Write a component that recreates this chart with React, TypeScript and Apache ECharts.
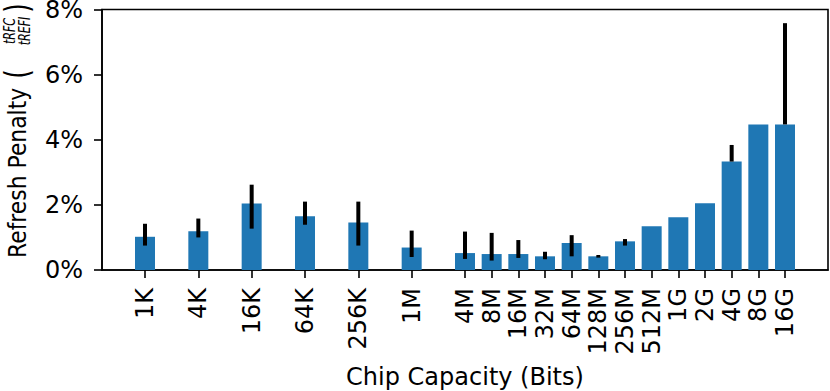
import React, { useEffect, useRef } from "react";
import * as echarts from "echarts";

const capacityLabels = ["1K", "4K", "16K", "64K", "256K", "1M", "4M", "8M", "16M", "32M", "64M", "128M", "256M", "512M", "1G", "2G", "4G", "8G", "16G"];
const capacityLog2 = [10, 12, 14, 16, 18, 20, 22, 23, 24, 25, 26, 27, 28, 29, 30, 31, 32, 33, 34];
const penalty = [1.02, 1.19, 2.04, 1.65, 1.46, 0.69, 0.52, 0.49, 0.49, 0.42, 0.83, 0.42, 0.88, 1.34, 1.62, 2.05, 3.33, 4.47, 4.47];
const errLow: (number | null)[] = [0.75, 1.0, 1.27, 1.39, 0.75, 0.4, 0.34, 0.29, 0.37, 0.33, 0.42, 0.38, 0.75, null, null, null, 3.33, null, 4.47];
const errHigh: (number | null)[] = [1.42, 1.58, 2.62, 2.1, 2.1, 1.21, 1.18, 1.14, 0.92, 0.56, 1.07, 0.46, 0.95, null, null, null, 3.84, null, 7.58];
const yTicks = [0, 2, 4, 6, 8];

const FONT = '"DejaVu Sans", sans-serif';
const BAR_HALF_WIDTH = 0.375;

export default function App() {
  const ref = useRef<HTMLDivElement>(null);
  useEffect(() => {
    document.body.style.margin = "0";
    const chart = echarts.init(ref.current!, null, { renderer: "svg" });
    const barData = capacityLog2.map((x, i) => [x, penalty[i]]);
    const errData = capacityLog2
      .map((x, i) => [x, errLow[i], errHigh[i]])
      .filter((d) => d[1] != null && d[2] != null);

    chart.setOption({
      animation: false,
      grid: {
        left: 102,
        right: 2,
        top: 9.5,
        bottom: 121,
        show: true,
        borderColor: "#000",
        borderWidth: 1.6,
        containLabel: false,
        outerBoundsMode: "none",
      },
      xAxis: {
        type: "value",
        min: 8.3875,
        max: 35.6125,
        splitLine: { show: false },
        axisLine: { show: true, onZero: false, lineStyle: { color: "#000", width: 1.6 } },
        axisTick: { show: true, customValues: capacityLog2, length: 8, lineStyle: { color: "#000", width: 1.6 } },
        axisLabel: {
          customValues: capacityLog2,
          rotate: 90,
          fontSize: 24,
          fontFamily: FONT,
          color: "#000",
          margin: 18,
          formatter: (v: number) => {
            const i = capacityLog2.indexOf(Math.round(v));
            return i >= 0 ? capacityLabels[i] : "";
          },
        },
        name: "Chip Capacity (Bits)",
        nameLocation: "middle",
        nameGap: 95,
        nameTextStyle: { fontSize: 24, fontFamily: FONT, color: "#000" },
      },
      yAxis: {
        type: "value",
        min: 0,
        max: 8,
        interval: 2,
        splitLine: { show: false },
        axisLine: { show: true, lineStyle: { color: "#000", width: 1.6 } },
        axisTick: { show: true, length: 8, lineStyle: { color: "#000", width: 1.6 } },
        axisLabel: {
          customValues: yTicks,
          fontSize: 24,
          fontFamily: FONT,
          color: "#000",
          margin: 19,
          formatter: "{value}%",
        },
      },
      graphic: [
        {
          type: "group",
          x: 17,
          y: 258,
          rotation: Math.PI / 2,
          children: [
            {
              type: "text",
              x: 0,
              y: 0,
              scaleX: 0.875,
              style: { text: "Refresh Penalty", x: 0, y: 0, font: `25px ${FONT}`, fill: "#000", align: "left", verticalAlign: "middle" },
            },
            {
              type: "text",
              x: 184,
              y: 1,
              scaleX: 0.7,
              style: { text: "(", x: 0, y: 0, font: `33px ${FONT}`, fill: "#000", align: "center", verticalAlign: "middle" },
            },
            {
              type: "text",
              x: 227,
              y: -7,
              scaleX: 0.74,
              style: { text: "tRFC", x: 0, y: 0, font: `italic 15px ${FONT}`, fill: "#000", align: "center", verticalAlign: "middle" },
            },
            {
              type: "text",
              x: 227,
              y: 8,
              scaleX: 0.74,
              style: { text: "tREFI", x: 0, y: 0, font: `italic 15px ${FONT}`, fill: "#000", align: "center", verticalAlign: "middle" },
            },
            {
              type: "text",
              x: 250,
              y: 1,
              scaleX: 0.7,
              style: { text: ")", x: 0, y: 0, font: `33px ${FONT}`, fill: "#000", align: "center", verticalAlign: "middle" },
            },
          ],
        },
      ],
      series: [
        {
          type: "custom",
          data: barData,
          encode: { x: 0, y: 1 },
          renderItem: (params: any, api: any) => {
            const x = api.value(0);
            const y = api.value(1);
            const p0 = api.coord([x - BAR_HALF_WIDTH, y]);
            const p1 = api.coord([x + BAR_HALF_WIDTH, 0]);
            return {
              type: "rect",
              shape: { x: p0[0], y: p0[1], width: p1[0] - p0[0], height: p1[1] - p0[1] },
              style: { fill: "#1f77b4" },
            };
          },
        },
        {
          type: "custom",
          data: errData,
          encode: { x: 0, y: [1, 2] },
          z: 5,
          renderItem: (params: any, api: any) => {
            const x = api.value(0);
            const a = api.coord([x, api.value(1)]);
            const b = api.coord([x, api.value(2)]);
            return {
              type: "line",
              shape: { x1: a[0], y1: a[1], x2: b[0], y2: b[1] },
              style: { stroke: "#000", lineWidth: 4 },
            };
          },
        },
      ],
    });
    return () => chart.dispose();
  }, []);
  return <div ref={ref} style={{ width: 830, height: 391 }} />;
}
